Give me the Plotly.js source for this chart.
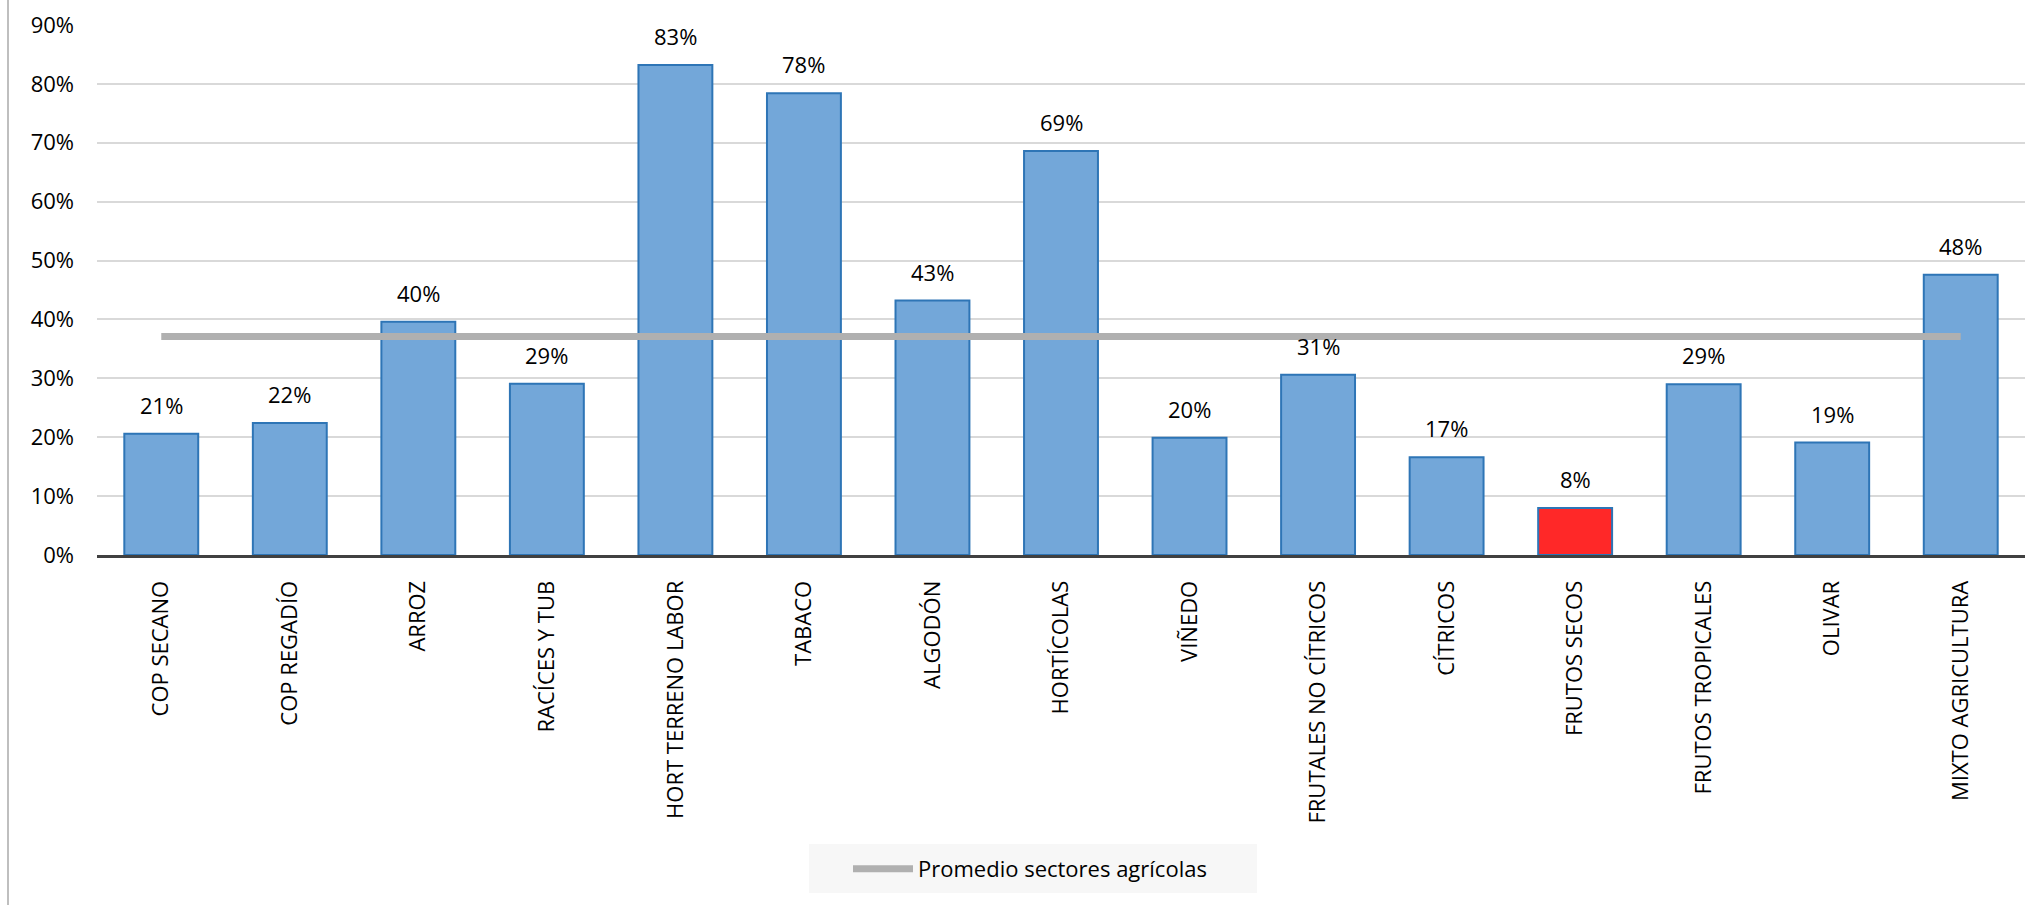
<!DOCTYPE html>
<html>
<head>
<meta charset="utf-8">
<script src="https://cdn.plot.ly/plotly-3.0.1.min.js"></script>
<style>
  html, body { margin: 0; padding: 0; background: #ffffff; }
  #chart { width: 2040px; height: 905px; }
</style>
</head>
<body>
<div id="chart"></div>
<script>
// ---- Data ----
const categories = [
  "COP SECANO", "COP REGADÍO", "ARROZ", "RACÍCES Y TUB", "HORT TERRENO LABOR",
  "TABACO", "ALGODÓN", "HORTÍCOLAS", "VIÑEDO", "FRUTALES NO CÍTRICOS",
  "CÍTRICOS", "FRUTOS SECOS", "FRUTOS TROPICALES", "OLIVAR", "MIXTO AGRICULTURA"
];
const values = [
  0.206, 0.224, 0.396, 0.291, 0.832,
  0.784, 0.432, 0.686, 0.199, 0.306,
  0.166, 0.080, 0.290, 0.191, 0.476
];
const promedio = 0.371;
const highlighted = "FRUTOS SECOS";
const seriesName = "Promedio sectores agrícolas";
const yTickVals = [0, 0.1, 0.2, 0.3, 0.4, 0.5, 0.6, 0.7, 0.8, 0.9];

// ---- Styles ----
const FONT = "'Open Sans', 'Noto Sans', sans-serif";
const blueFill = "#73A7D9";
const redFill = "#FF2828";
const barLine = "#2E75B6";
const barColors = categories.map(c => c === highlighted ? redFill : blueFill);

// plot area geometry (px) used for paper-relative placement of decorations
const ML = 97, MR = 15, MT = 25, MB = 350, W = 2040, H = 905;
const PW = W - ML - MR, PH = H - MT - MB;
const px2paperX = px => (px - ML) / PW;
const px2paperY = py => (H - MB - py) / PH;

const bars = {
  type: "bar",
  x: categories,
  y: values,
  marker: { color: barColors, line: { color: barLine, width: 2 } },
  showlegend: false,
  hoverinfo: "x+y"
};

const avgLine = {
  type: "scatter",
  mode: "lines",
  x: categories,
  y: categories.map(() => promedio),
  name: seriesName,
  line: { color: "#B0B0B0", width: 7 },
  showlegend: true
};

const annotations = categories.map((c, i) => ({
  x: c,
  y: values[i],
  xref: "x",
  yref: "y",
  text: Math.round(values[i] * 100) + "%",
  showarrow: false,
  yanchor: "bottom",
  yshift: 12,
  font: { family: FONT, size: 22, color: "#000000" }
}));

const layout = {
  width: W,
  height: H,
  margin: { l: ML, r: MR, t: MT, b: MB },
  paper_bgcolor: "#ffffff",
  plot_bgcolor: "#ffffff",
  font: { family: FONT, size: 22, color: "#000000" },
  bargap: 0.425,
  xaxis: {
    type: "category",
    tickangle: -90,
    showgrid: false,
    showline: true,
    linecolor: "#404040",
    linewidth: 3,
    ticks: "",
    ticklabelstandoff: 14,
    tickfont: { family: FONT, size: 22, color: "#000000" },
    zeroline: false
  },
  yaxis: {
    range: [0, 0.9],
    tickvals: yTickVals,
    tickformat: ".0%",
    showgrid: true,
    gridcolor: "#D9D9D9",
    gridwidth: 2,
    zeroline: false,
    showline: false,
    ticks: "",
    ticklabelstandoff: 22,
    tickfont: { family: FONT, size: 22, color: "#000000" }
  },
  showlegend: true,
  legend: {
    orientation: "h",
    x: px2paperX(848),
    xanchor: "left",
    yref: "container",
    y: 1 - 869 / H,
    yanchor: "middle",
    bgcolor: "rgba(0,0,0,0)",
    borderwidth: 0,
    itemwidth: 60,
    font: { family: FONT, size: 22, color: "#000000" }
  },
  annotations: annotations,
  shapes: [
    {
      type: "line",
      xref: "paper",
      yref: "paper",
      x0: px2paperX(8),
      x1: px2paperX(8),
      y0: px2paperY(H),
      y1: px2paperY(0),
      line: { color: "#BFBFBF", width: 2 }
    },
    {
      type: "rect",
      xref: "paper",
      yref: "paper",
      layer: "below",
      x0: px2paperX(809),
      x1: px2paperX(1257),
      y0: px2paperY(893),
      y1: px2paperY(844),
      fillcolor: "#F7F7F7",
      line: { width: 0 }
    }
  ]
};

Plotly.newPlot("chart", [bars, avgLine], layout, { displayModeBar: false, staticPlot: true });
</script>
</body>
</html>
